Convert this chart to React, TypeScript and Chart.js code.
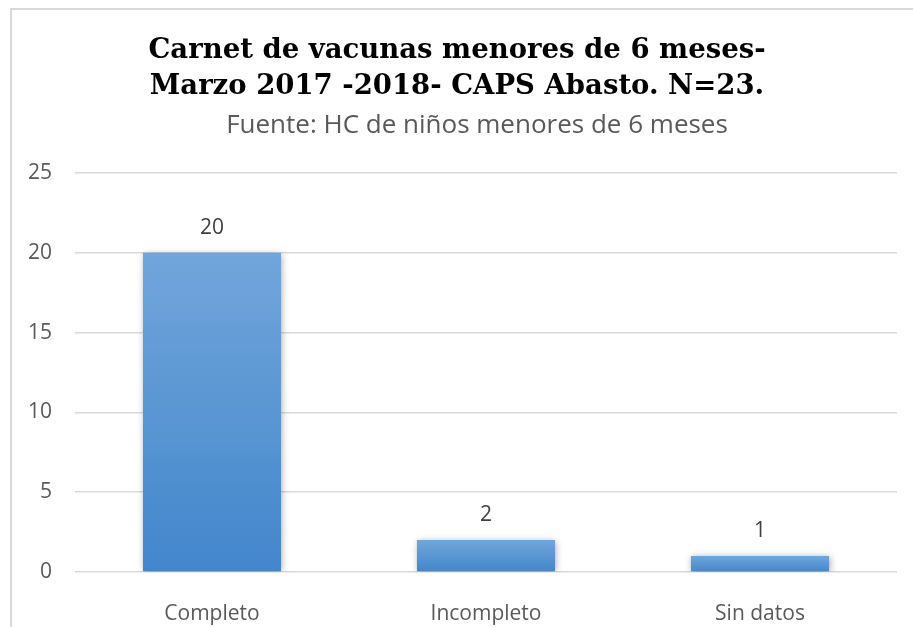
import React, { useEffect, useRef } from 'react';
import { Chart, registerables } from 'chart.js';

Chart.register(...registerables);

const categories = ['Completo', 'Incompleto', 'Sin datos'];
const values = [20, 2, 1];
const yMin = 0;
const yMax = 25;
const yStep = 5;
const titleLines = ['Carnet de vacunas menores de 6 meses-', 'Marzo 2017 -2018- CAPS Abasto. N=23.'];
const subtitleText = 'Fuente: HC de niños menores de 6 meses';

const barShadow = {
  id: 'barShadow',
  beforeDatasetDraw(chart: any) {
    const ctx = chart.ctx;
    ctx.save();
    ctx.shadowColor = 'rgba(0,0,0,0.35)';
    ctx.shadowBlur = 7;
    ctx.shadowOffsetX = 1;
    ctx.shadowOffsetY = 1;
  },
  afterDatasetDraw(chart: any) {
    chart.ctx.restore();
  },
};

// shift the title and subtitle boxes horizontally to match the reference centring
const titleShift = {
  id: 'titleShift',
  afterLayout(chart: any) {
    chart.boxes.forEach((box: any) => {
      if (!box.options || box.options.text === undefined) return;
      const isSub = box.options.text === subtitleText;
      const dx = isSub ? 28.5 : 8.5;
      box.left += dx;
      box.right += dx;
    });
  },
};

const dataLabels = {
  id: 'dataLabels',
  afterDatasetsDraw(chart: any) {
    const ctx = chart.ctx;
    const meta = chart.getDatasetMeta(0);
    ctx.save();
    ctx.font = '21px "Open Sans"';
    ctx.fillStyle = '#404040';
    ctx.textAlign = 'center';
    ctx.textBaseline = 'middle';
    meta.data.forEach((bar: any, i: number) => {
      ctx.fillText(String(values[i]), bar.x, bar.y - 25);
    });
    ctx.restore();
  },
};

function barGradient(context: any) {
  const chart = context.chart;
  const yScale = chart.scales && chart.scales.y;
  if (!chart.chartArea || !yScale) return '#5b9bd5';
  const v = context.raw ?? values[context.dataIndex];
  const top = yScale.getPixelForValue(v);
  const base = yScale.getPixelForValue(0);
  if (!isFinite(top) || !isFinite(base) || top === base) return '#5b9bd5';
  const g = chart.ctx.createLinearGradient(0, top, 0, base);
  g.addColorStop(0, '#71a6db');
  g.addColorStop(1, '#4286cb');
  return g;
}

export default function App() {
  const ref = useRef<HTMLCanvasElement | null>(null);

  useEffect(() => {
    document.body.style.margin = '0';
    if (!ref.current) return;
    const chart = new Chart(ref.current, {
      type: 'bar',
      data: {
        labels: categories,
        datasets: [
          {
            data: values,
            backgroundColor: barGradient,
            borderWidth: 0,
            categoryPercentage: 1,
            barPercentage: 0.504,
          },
        ],
      },
      options: {
        responsive: false,
        animation: false,
        layout: { padding: { top: 0, left: 0, right: 16, bottom: 0 } },
        plugins: {
          legend: { display: false },
          tooltip: { enabled: false },
          title: {
            display: true,
            text: titleLines,
            color: '#000000',
            font: { family: '"DejaVu Serif"', weight: 'bold', size: 27.5, lineHeight: 1.29 },
            padding: { top: 33.25, bottom: 5.65 },
          },
          subtitle: {
            display: true,
            text: subtitleText,
            color: '#595959',
            font: { family: '"Open Sans"', size: 26, lineHeight: 1.2 },
            padding: { top: 0, bottom: 31.9 },
          },
        },
        scales: {
          x: {
            grid: { display: false },
            border: { display: false },
            ticks: {
              color: '#595959',
              font: { family: '"Open Sans"', size: 21 },
              padding: 21,
            },
            afterFit(scale: any) {
              scale.height = 55;
            },
          },
          y: {
            min: yMin,
            max: yMax,
            grid: { color: '#d9d9d9', lineWidth: 1.5, drawTicks: false },
            border: { display: false },
            ticks: {
              stepSize: yStep,
              color: '#595959',
              font: { family: '"Open Sans"', size: 21 },
              padding: 23,
            },
            afterFit(scale: any) {
              scale.width = 75;
            },
          },
        },
      },
      plugins: [barShadow, titleShift, dataLabels],
    });
    return () => chart.destroy();
  }, []);

  return (
    <div style={{ position: 'relative', width: 913, height: 627, overflow: 'hidden', background: '#ffffff' }}>
      <div
        style={{
          position: 'absolute',
          left: 10,
          top: 8,
          right: 0,
          bottom: 0,
          borderTop: '2px solid #d9d9d9',
          borderLeft: '2px solid #d9d9d9',
        }}
      />
      <canvas ref={ref} width={913} height={627} style={{ position: 'absolute', left: 0, top: 0 }} />
    </div>
  );
}
